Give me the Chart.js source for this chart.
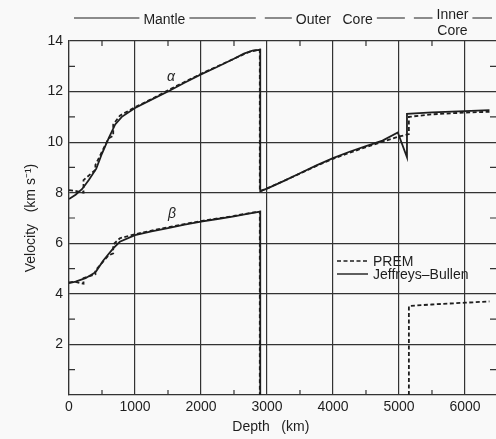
<!DOCTYPE html>
<html lang="en">
    <head>
        <meta charset="utf-8" />
        <title>Velocity vs depth</title>
        <style>
            body { margin: 0; background: #f9f9f9; }
            canvas { display: block; }
        </style>
    </head>
    <body>
        <canvas id="velchart" width="496" height="439"></canvas>

        <script src="https://cdn.jsdelivr.net/npm/chart.js@4.4.1/dist/chart.umd.min.js"></script>

        <script>
            // depth in km, velocity in km/s
            const premAlphaDepth = [0, 80, 220, 220, 400, 400, 600, 670, 670, 771, 1000, 1250, 1500, 1750, 2000, 2250, 2500, 2741, 2891, 2891, 3000, 3250, 3500, 3750, 4000, 4250, 4500, 4750, 5000, 5150, 5150, 5500, 6000, 6371];
            const premAlphaVel = [8.1, 8.08, 8.0, 8.5, 8.9, 9.1, 10.15, 10.25, 10.7, 11.05, 11.38, 11.7, 12.05, 12.38, 12.7, 13.0, 13.3, 13.58, 13.66, 8.05, 8.17, 8.46, 8.76, 9.06, 9.34, 9.58, 9.8, 10.02, 10.22, 10.32, 11.0, 11.1, 11.17, 11.2];

            const jbAlphaDepth = [0, 100, 200, 300, 413, 500, 600, 700, 800, 1000, 1250, 1500, 1750, 2000, 2250, 2500, 2650, 2780, 2898, 2898, 3000, 3250, 3500, 3750, 4000, 4250, 4500, 4750, 4982, 5121, 5121, 5500, 6000, 6371];
            const jbAlphaVel = [7.75, 7.92, 8.15, 8.5, 8.95, 9.55, 10.15, 10.7, 11.0, 11.35, 11.68, 12.0, 12.35, 12.68, 12.98, 13.3, 13.5, 13.62, 13.65, 8.06, 8.16, 8.46, 8.77, 9.08, 9.37, 9.62, 9.84, 10.06, 10.38, 9.4, 11.12, 11.18, 11.23, 11.27];

            // null splits the line where the outer core has no shear velocity
            const premBetaDepth = [0, 80, 220, 220, 400, 400, 600, 670, 670, 771, 1000, 1250, 1500, 1750, 2000, 2250, 2500, 2741, 2891, 2891, 4000, 5150, 5150, 5500, 6000, 6371];
            const premBetaVel = [4.45, 4.48, 4.4, 4.62, 4.77, 4.93, 5.52, 5.6, 5.95, 6.2, 6.36, 6.5, 6.63, 6.76, 6.88, 6.98, 7.08, 7.2, 7.25, 0, null, 0, 3.52, 3.58, 3.65, 3.7];

            const jbBetaDepth = [0, 100, 250, 370, 413, 520, 670, 770, 1000, 1250, 1500, 1750, 2000, 2250, 2500, 2700, 2898, 2898];
            const jbBetaVel = [4.42, 4.48, 4.62, 4.8, 4.9, 5.32, 5.8, 6.06, 6.32, 6.47, 6.6, 6.74, 6.86, 6.96, 7.06, 7.16, 7.25, 0];

            const depthTicks = [0, 1000, 2000, 3000, 4000, 5000, 6000];
            const depthMinor = [500, 1500, 2500, 3500, 4500, 5500];
            const velTicks = [2, 4, 6, 8, 10, 12, 14];
            const velMinor = [1, 3, 5, 7, 9, 11, 13];

            // header bands: [start depth, end depth, label lines]
            const zones = [
                [0, 2891, ["Mantle"]],
                [2891, 5150, ["Outer   Core"]],
                [5150, null, ["Inner", "Core"]],
            ];

            const ink = "#1e1e1e";
            const gridInk = "#333";
            const fuente = "'Liberation Sans', Arial, sans-serif";

            const pts = (d, v) => d.map((x, i) => ({ x: x, y: v[i] }));

            function serie(label, d, v, dashed) {
                return {
                    label: label,
                    data: pts(d, v),
                    borderColor: ink,
                    borderWidth: 1.8,
                    borderDash: dashed ? [4, 2.5] : [],
                    pointRadius: 0,
                    tension: 0,
                    spanGaps: false,
                };
            }

            const decor = {
                id: "decor",
                afterDraw(chart) {
                    const ctx = chart.ctx;
                    const ca = chart.chartArea;
                    const x = chart.scales.x;
                    const y = chart.scales.y;
                    ctx.save();
                    ctx.strokeStyle = gridInk;
                    ctx.lineWidth = 1.2;
                    ctx.setLineDash([]);

                    // small inner ticks
                    ctx.beginPath();
                    depthMinor.forEach((d) => {
                        const px = x.getPixelForValue(d);
                        ctx.moveTo(px, ca.bottom);
                        ctx.lineTo(px, ca.bottom - 5);
                        ctx.moveTo(px, ca.top);
                        ctx.lineTo(px, ca.top + 5);
                    });
                    velMinor.forEach((v) => {
                        const py = y.getPixelForValue(v);
                        ctx.moveTo(ca.left, py);
                        ctx.lineTo(ca.left + 6, py);
                        ctx.moveTo(ca.right, py);
                        ctx.lineTo(ca.right - 6, py);
                    });
                    ctx.stroke();

                    // header with region names
                    ctx.font = "14px " + fuente;
                    ctx.fillStyle = ink;
                    ctx.textAlign = "center";
                    ctx.textBaseline = "middle";
                    ctx.strokeStyle = ink;
                    ctx.lineWidth = 1.1;
                    const hy = 18;
                    zones.forEach((z) => {
                        const x0 = x.getPixelForValue(z[0]);
                        const x1 = z[1] === null ? ca.right : x.getPixelForValue(z[1]);
                        const c = (x0 + x1) / 2;
                        const w = Math.max(...z[2].map((t) => ctx.measureText(t).width));
                        if (z[2].length === 1) {
                            ctx.fillText(z[2][0], c, hy + 2);
                        } else {
                            ctx.fillText(z[2][0], c, hy - 3);
                            ctx.fillText(z[2][1], c, hy + 13);
                        }
                        ctx.beginPath();
                        ctx.moveTo(x0 + 5, hy);
                        ctx.lineTo(c - w / 2 - 4, hy);
                        ctx.moveTo(c + w / 2 + 4, hy);
                        ctx.lineTo(x1 - 4, hy);
                        ctx.stroke();
                    });

                    // alpha / beta labels
                    ctx.font = "italic 14px " + fuente;
                    ctx.fillText("α", x.getPixelForValue(1545), y.getPixelForValue(12.57));
                    ctx.fillText("β", x.getPixelForValue(1560), y.getPixelForValue(7.16));

                    // legend
                    const lx = ca.left + 268;
                    const ly = ca.top + 220;
                    const ds = chart.data.datasets;
                    [ds[0], ds[1]].forEach((d, i) => {
                        const yy = ly + i * 13;
                        ctx.beginPath();
                        ctx.setLineDash(d.borderDash);
                        ctx.lineWidth = 1.4;
                        ctx.moveTo(lx, yy);
                        ctx.lineTo(lx + 31, yy);
                        ctx.stroke();
                        ctx.setLineDash([]);
                        ctx.font = "14px " + fuente;
                        ctx.textAlign = "left";
                        ctx.fillText(d.label, lx + 36, yy + 1);
                    });
                    ctx.restore();
                },
            };

            new Chart(document.getElementById("velchart").getContext("2d"), {
                type: "line",
                data: {
                    datasets: [
                        serie("PREM", premAlphaDepth, premAlphaVel, true),
                        serie("Jeffreys–Bullen", jbAlphaDepth, jbAlphaVel, false),
                        serie("PREM β", premBetaDepth, premBetaVel, true),
                        serie("Jeffreys–Bullen β", jbBetaDepth, jbBetaVel, false),
                    ],
                },
                options: {
                    responsive: false,
                    animation: false,
                    devicePixelRatio: 1,
                    layout: { padding: { top: 41, right: 0, left: 0, bottom: 0 } },
                    plugins: {
                        legend: { display: false },
                        tooltip: { enabled: false },
                    },
                    scales: {
                        x: {
                            type: "linear",
                            min: 0,
                            max: 6470,
                            afterBuildTicks: (s) => {
                                s.ticks = depthTicks.map((v) => ({ value: v }));
                            },
                            afterFit: (s) => {
                                s.height = 44;
                            },
                            ticks: {
                                padding: 4,
                                color: ink,
                                maxRotation: 0,
                                font: { size: 14, family: fuente },
                                callback: (v) => String(v),
                            },
                            grid: { color: gridInk, lineWidth: 1.2, drawTicks: false },
                            border: { color: gridInk, width: 1.2 },
                            title: {
                                display: true,
                                text: "Depth   (km)      ",
                                color: ink,
                                padding: { top: 0, bottom: 3 },
                                font: { size: 14, family: fuente },
                            },
                        },
                        y: {
                            min: 0,
                            max: 14,
                            afterBuildTicks: (s) => {
                                s.ticks = velTicks.map((v) => ({ value: v }));
                            },
                            afterFit: (s) => {
                                s.width = 69;
                            },
                            ticks: {
                                padding: 6,
                                color: ink,
                                font: { size: 14, family: fuente },
                                callback: (v) => String(v),
                            },
                            grid: { color: gridInk, lineWidth: 1.2, drawTicks: false },
                            border: { color: gridInk, width: 1.2 },
                            title: {
                                display: true,
                                text: "Velocity   (km s⁻¹)",
                                color: ink,
                                padding: { top: 23, bottom: 0 },
                                font: { size: 14, family: fuente },
                            },
                        },
                    },
                },
                plugins: [decor],
            });
        </script>
    </body>
</html>
